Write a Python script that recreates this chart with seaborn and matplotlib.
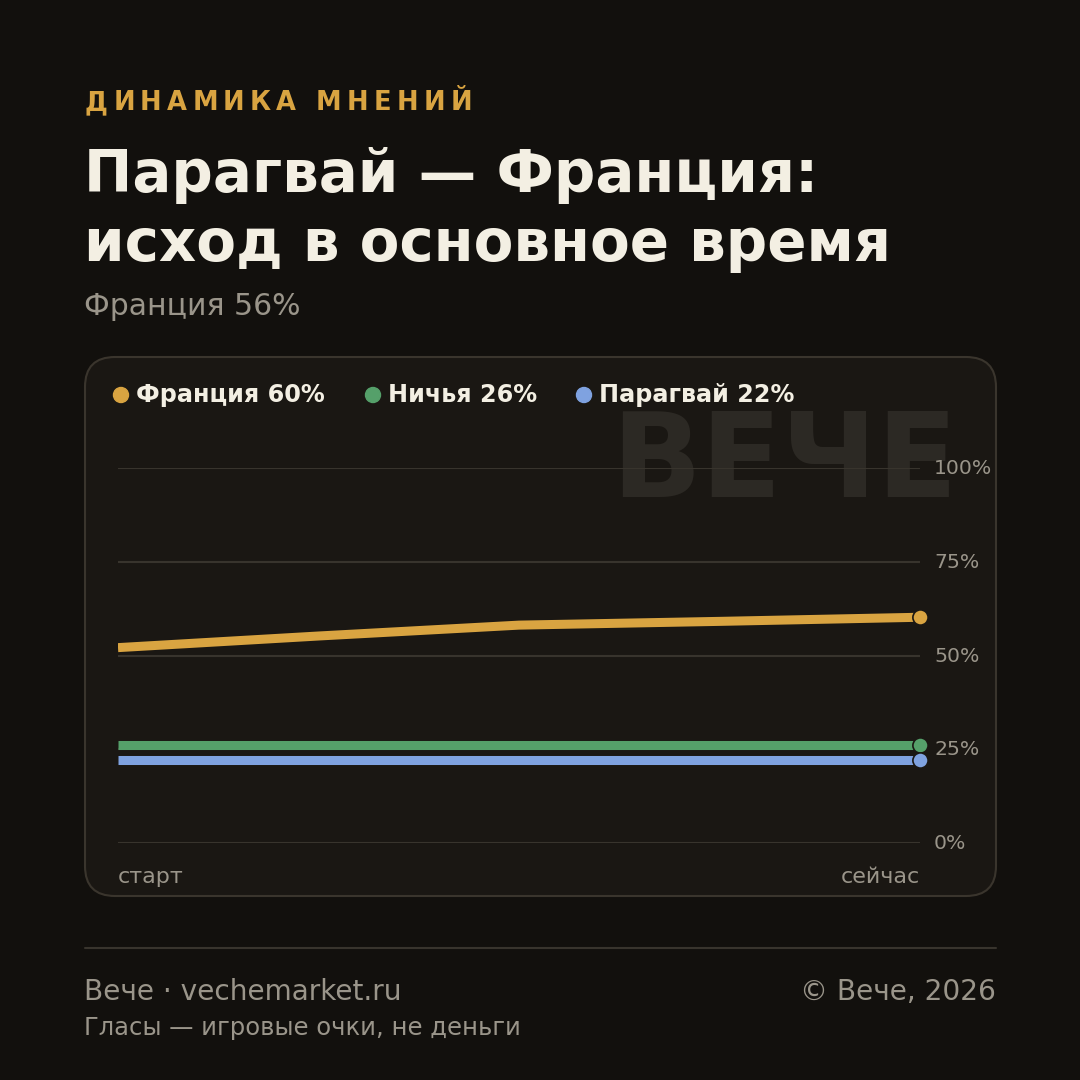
import matplotlib
matplotlib.use("Agg")
import matplotlib.pyplot as plt
import seaborn as sns
import pandas as pd
from matplotlib.patches import FancyBboxPatch, Circle
from matplotlib.font_manager import FontProperties

# ---- data ----
time_points = [0.0, 0.25, 0.5, 0.75, 1.0]
france = [52.1, 55.2, 58.1, 59.1, 60.2]
draw = [26.1, 26.1, 26.1, 26.1, 26.1]
paraguay = [22.1, 22.1, 22.1, 22.1, 22.1]
series_names = ["Франция", "Ничья", "Парагвай"]
legend_labels = ["Франция 60%", "Ничья 26%", "Парагвай 22%"]
y_ticks = [0, 25, 50, 75, 100]
y_tick_labels = ["0%", "25%", "50%", "75%", "100%"]
x_labels = ["старт", "сейчас"]

kicker = "ДИНАМИКА МНЕНИЙ"
title_lines = ["Парагвай — Франция:", "исход в основное время"]
subtitle = "Франция 56%"
footer_left = "Вече · vechemarket.ru"
footer_right = "© Вече, 2026"
footer_note = "Гласы — игровые очки, не деньги"
watermark = "ВЕЧЕ"

colors = {"Франция": "#d9a441", "Ничья": "#55a06a", "Парагвай": "#7fa2e0"}
BG = "#12100d"
CARD = "#1a1713"
GRID = "#38342d"
MUTED = "#9a958a"
TEXT = "#f3efe3"

df = pd.DataFrame({
    "t": time_points * 3,
    "v": france + draw + paraguay,
    "s": [series_names[0]] * 5 + [series_names[1]] * 5 + [series_names[2]] * 5,
})

sns.set_theme(style="dark")
plt.rcParams["font.family"] = ["DejaVu Sans"]

W = H = 1080
fig = plt.figure(figsize=(10.8, 10.8), dpi=100, facecolor=BG)

# background axes in pixel coordinates
bg = fig.add_axes([0, 0, 1, 1], zorder=0)
bg.set_xlim(0, W)
bg.set_ylim(H, 0)
bg.axis("off")
bg.set_facecolor(BG)

card = FancyBboxPatch((85, 357), 911, 539, boxstyle="round,pad=0,rounding_size=30",
                      facecolor=CARD, edgecolor="#3a352d", linewidth=1.5)
bg.add_patch(card)

# watermark
bg.text(958, 497, watermark, fontsize=85, fontweight="bold", color="#2c2924",
        ha="right", va="baseline")

# kicker with letter spacing
fig.canvas.draw()
renderer = fig.canvas.get_renderer()
total_target = 472 - 85
chars = list(kicker)
KS = 18.5
fp = FontProperties(family="DejaVu Sans", weight="bold", size=KS)
adv = []
for c in chars:
    w, h, d = renderer.get_text_width_height_descent(c if c != " " else "\u00a0", fp, ismath=False)
    adv.append(w * fig.dpi / 72.0 if False else w)
spacing = (total_target - sum(adv)) / (len(chars) - 1)
x = 85
for c, a in zip(chars, adv):
    if c != " ":
        bg.text(x, 110, c, fontsize=KS, fontweight="bold", color="#d9a441",
                ha="left", va="baseline")
    x += a + spacing

# title
bg.text(84, 192, title_lines[0], fontsize=41.7, fontweight="bold", color=TEXT,
        ha="left", va="baseline")
bg.text(84, 261, title_lines[1], fontsize=41.7, fontweight="bold", color=TEXT,
        ha="left", va="baseline")
bg.text(84, 315, subtitle, fontsize=21.5, color=MUTED, ha="left", va="baseline")

# legend
leg_x = [121, 373, 584]
for lx, name, lab in zip(leg_x, series_names, legend_labels):
    bg.add_patch(Circle((lx, 395), 7.5, color=colors[name]))
    bg.text(lx + 15, 402, lab, fontsize=17.2, fontweight="bold", color=TEXT,
            ha="left", va="baseline")

# footer
bg.plot([85, 996], [948, 948], color="#38342d", lw=1.5)
bg.text(84, 1000, footer_left, fontsize=20.2, color=MUTED, ha="left", va="baseline")
bg.text(996, 1000, footer_right, fontsize=20.2, color=MUTED, ha="right", va="baseline")
bg.text(84, 1035, footer_note, fontsize=17.5, color=MUTED, ha="left", va="baseline")

# main chart axes: x 118..920, y 843 (0%) .. 468 (100%)
ax = fig.add_axes([118 / W, (H - 843) / H, (920 - 118) / W, (843 - 468) / H], zorder=2)
ax.set_facecolor("none")
ax.patch.set_alpha(0)
for sp in ax.spines.values():
    sp.set_visible(False)
ax.set_xlim(0, 1)
ax.set_ylim(0, 100)
for yt in y_ticks:
    ax.axhline(yt, color=GRID, lw=1.5, zorder=1)

sns.lineplot(data=df, x="t", y="v", hue="s", palette=colors, hue_order=series_names,
             lw=6.5, ax=ax, legend=False, zorder=3, solid_capstyle="butt")
for name, vals in zip(series_names, [france, draw, paraguay]):
    ax.scatter([time_points[-1]], [vals[-1]], s=120, color=colors[name], zorder=4,
               edgecolor=CARD, linewidth=1.2, clip_on=False)

ax.set_xticks([])
ax.set_yticks([])
ax.set_xlabel("")
ax.set_ylabel("")
for yt, lab in zip(y_ticks, y_tick_labels):
    bg.text(934, 843 - yt * 3.75 + 6, lab, fontsize=14.7, color=MUTED,
            ha="left", va="baseline")
bg.text(118, 883, x_labels[0], fontsize=16, color=MUTED, ha="left", va="baseline")
bg.text(920, 883, x_labels[1], fontsize=16, color=MUTED, ha="right", va="baseline")

fig.savefig("out.png", dpi=100, facecolor=BG)
